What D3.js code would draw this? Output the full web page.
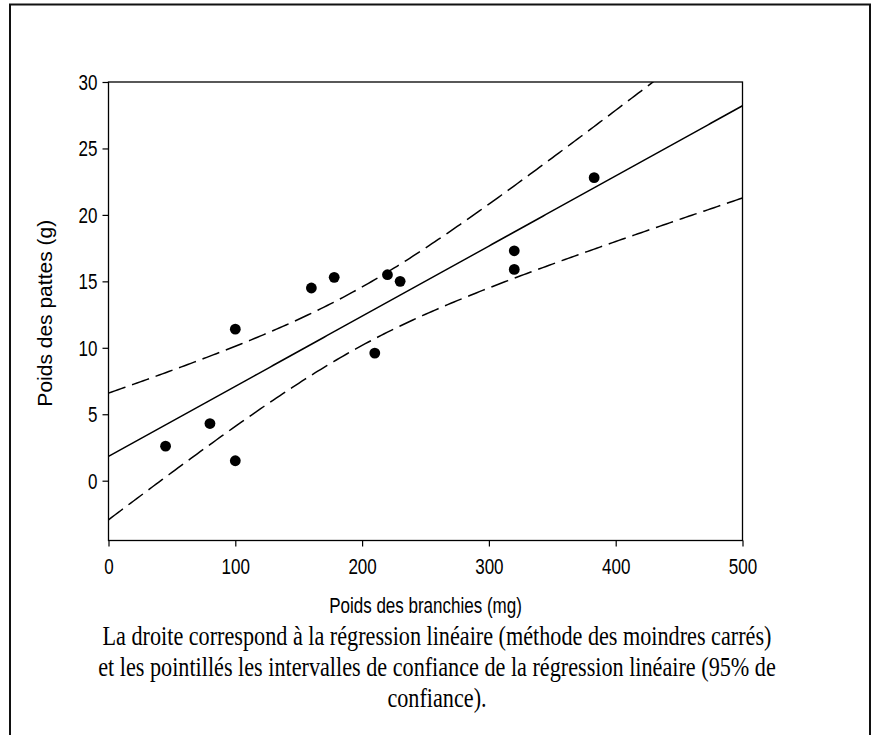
<!DOCTYPE html>
<html>
<head>
<meta charset="utf-8">
<script src="https://cdn.jsdelivr.net/npm/d3@7"></script>
<style>
    body { margin: 0; background: #fff; }
    svg text { fill: #000; }
</style>
</head>
<body>
<div id="chart"></div>
<script>
const brancheWeights = [45, 80, 100, 100, 160, 178, 210, 220, 230, 320, 320, 383];
const patteWeights = [2.6, 4.3, 11.4, 1.5, 14.5, 15.3, 9.6, 15.5, 15.0, 17.3, 15.9, 22.8];

const xTicks = [0, 100, 200, 300, 400, 500];
const yTicks = [0, 5, 10, 15, 20, 25, 30];

const xTitle = "Poids des branchies (mg)";
const yTitle = "Poids des pattes (g)";
const captionLines = [
    "La droite correspond à la régression linéaire (méthode des moindres carrés)",
    "et les pointillés les intervalles de confiance de la régression linéaire (95% de",
    "confiance)."
];

// t(0.975, df = 10)
const T_95 = 2.228;

// the original figure is a bit taller than wide, text looks stretched
const STRETCH = 1.25;

class ScatterChart
{
    constructor(selector)
    {
        this.width = 878;
        this.height = 735;
        this.frame = { left: 108.5, right: 742.5, top: 82, bottom: 540.5 };
        this.svg = d3.select(selector).append("svg")
            .attr("width", this.width)
            .attr("height", this.height);
        this.initScales();
    }

    initScales()
    {
        const f = this.frame;
        this.x = d3.scaleLinear().domain([0, 500]).range([f.left, f.right]);
        this.y = d3.scaleLinear().domain([-4.5, 30]).range([f.bottom, f.top]);
    }

    // least squares fit + confidence band of the mean
    fit()
    {
        const n = brancheWeights.length;
        const mx = d3.mean(brancheWeights), my = d3.mean(patteWeights);
        let sxx = 0, sxy = 0;
        brancheWeights.forEach((xv, i) => {
            sxx += (xv - mx) ** 2;
            sxy += (xv - mx) * (patteWeights[i] - my);
        });
        const slope = sxy / sxx;
        const intercept = my - slope * mx;
        let sse = 0;
        brancheWeights.forEach((xv, i) => {
            sse += (patteWeights[i] - (intercept + slope * xv)) ** 2;
        });
        const s = Math.sqrt(sse / (n - 2));
        const pred = xv => intercept + slope * xv;
        const half = xv => T_95 * s * Math.sqrt(1 / n + (xv - mx) ** 2 / sxx);
        return { pred, half };
    }

    draw()
    {
        this.drawBorder();
        this.drawAxes();
        this.drawFit();
        this.drawPoints();
        this.drawTexts();
    }

    drawBorder()
    {
        this.svg.append("rect")
            .attr("x", 10).attr("y", 4.5)
            .attr("width", 860).attr("height", 760)
            .attr("fill", "none")
            .attr("stroke", "#111")
            .attr("stroke-width", 2);
    }

    drawAxes()
    {
        const f = this.frame;
        const font = "'Liberation Sans', Arial, sans-serif";

        const xAxis = this.svg.append("g")
            .attr("transform", `translate(0,${f.bottom})`)
            .call(d3.axisBottom(this.x).tickValues(xTicks).tickSize(6));
        const yAxis = this.svg.append("g")
            .attr("transform", `translate(${f.left},0)`)
            .call(d3.axisLeft(this.y).tickValues(yTicks).tickSize(6));

        [xAxis, yAxis].forEach(g => {
            g.select(".domain").remove();
            g.selectAll("line").attr("stroke", "#000").attr("stroke-width", 1.2);
            g.selectAll("text")
                .attr("font-family", font)
                .attr("font-size", 17)
                .attr("fill", "#000");
        });

        // place labels by hand so they can be stretched around their own origin
        xAxis.selectAll("text")
            .attr("y", null).attr("dy", null)
            .attr("transform", `translate(0,33.5) scale(1,${STRETCH})`);
        yAxis.selectAll("text")
            .attr("x", null).attr("dy", null)
            .attr("transform", `translate(-11,7.5) scale(1,${STRETCH})`);

        // plot frame
        this.svg.append("rect")
            .attr("x", f.left).attr("y", f.top)
            .attr("width", f.right - f.left).attr("height", f.bottom - f.top)
            .attr("fill", "none")
            .attr("stroke", "#000")
            .attr("stroke-width", 1.3);
    }

    drawFit()
    {
        const f = this.frame;
        const { pred, half } = this.fit();
        const xs = d3.range(0, 500.5, 2.5);

        this.svg.append("clipPath").attr("id", "plot-clip")
            .append("rect")
            .attr("x", f.left).attr("y", f.top)
            .attr("width", f.right - f.left).attr("height", f.bottom - f.top);

        const layer = this.svg.append("g").attr("clip-path", "url(#plot-clip)");
        const line = fn => d3.line().x(d => this.x(d)).y(d => this.y(fn(d)))(xs);

        layer.append("path")
            .attr("d", line(pred))
            .attr("fill", "none").attr("stroke", "#000").attr("stroke-width", 1.5);

        [d => pred(d) + half(d), d => pred(d) - half(d)].forEach(fn => {
            layer.append("path")
                .attr("d", line(fn))
                .attr("fill", "none").attr("stroke", "#000").attr("stroke-width", 1.5)
                .attr("stroke-dasharray", "18,7");
        });
    }

    drawPoints()
    {
        this.svg.append("g").selectAll("circle")
            .data(brancheWeights.map((xv, i) => [xv, patteWeights[i]]))
            .join("circle")
            .attr("cx", d => this.x(d[0]))
            .attr("cy", d => this.y(d[1]))
            .attr("r", 5.4)
            .attr("fill", "#000");
    }

    drawTexts()
    {
        const f = this.frame;
        const sans = "'Liberation Sans', Arial, sans-serif";

        this.svg.append("text")
            .attr("transform", `translate(${(f.left + f.right) / 2},613) scale(1,${STRETCH})`)
            .attr("text-anchor", "middle")
            .attr("font-family", sans).attr("font-size", 17)
            .text(xTitle);

        this.svg.append("text")
            .attr("transform", `translate(52,${(f.top + f.bottom) / 2 + 2}) rotate(-90)`)
            .attr("text-anchor", "middle")
            .attr("font-family", sans).attr("font-size", 21)
            .text(yTitle);

        this.svg.append("g").selectAll("text")
            .data(captionLines)
            .join("text")
            .attr("transform", (d, i) => `translate(437,${645 + i * 31}) scale(1,${STRETCH})`)
            .attr("text-anchor", "middle")
            .attr("font-family", "'Liberation Serif', 'Times New Roman', serif")
            .attr("font-size", 22.2)
            .text(d => d);
    }
}

new ScatterChart("#chart").draw();
</script>
</body>
</html>
